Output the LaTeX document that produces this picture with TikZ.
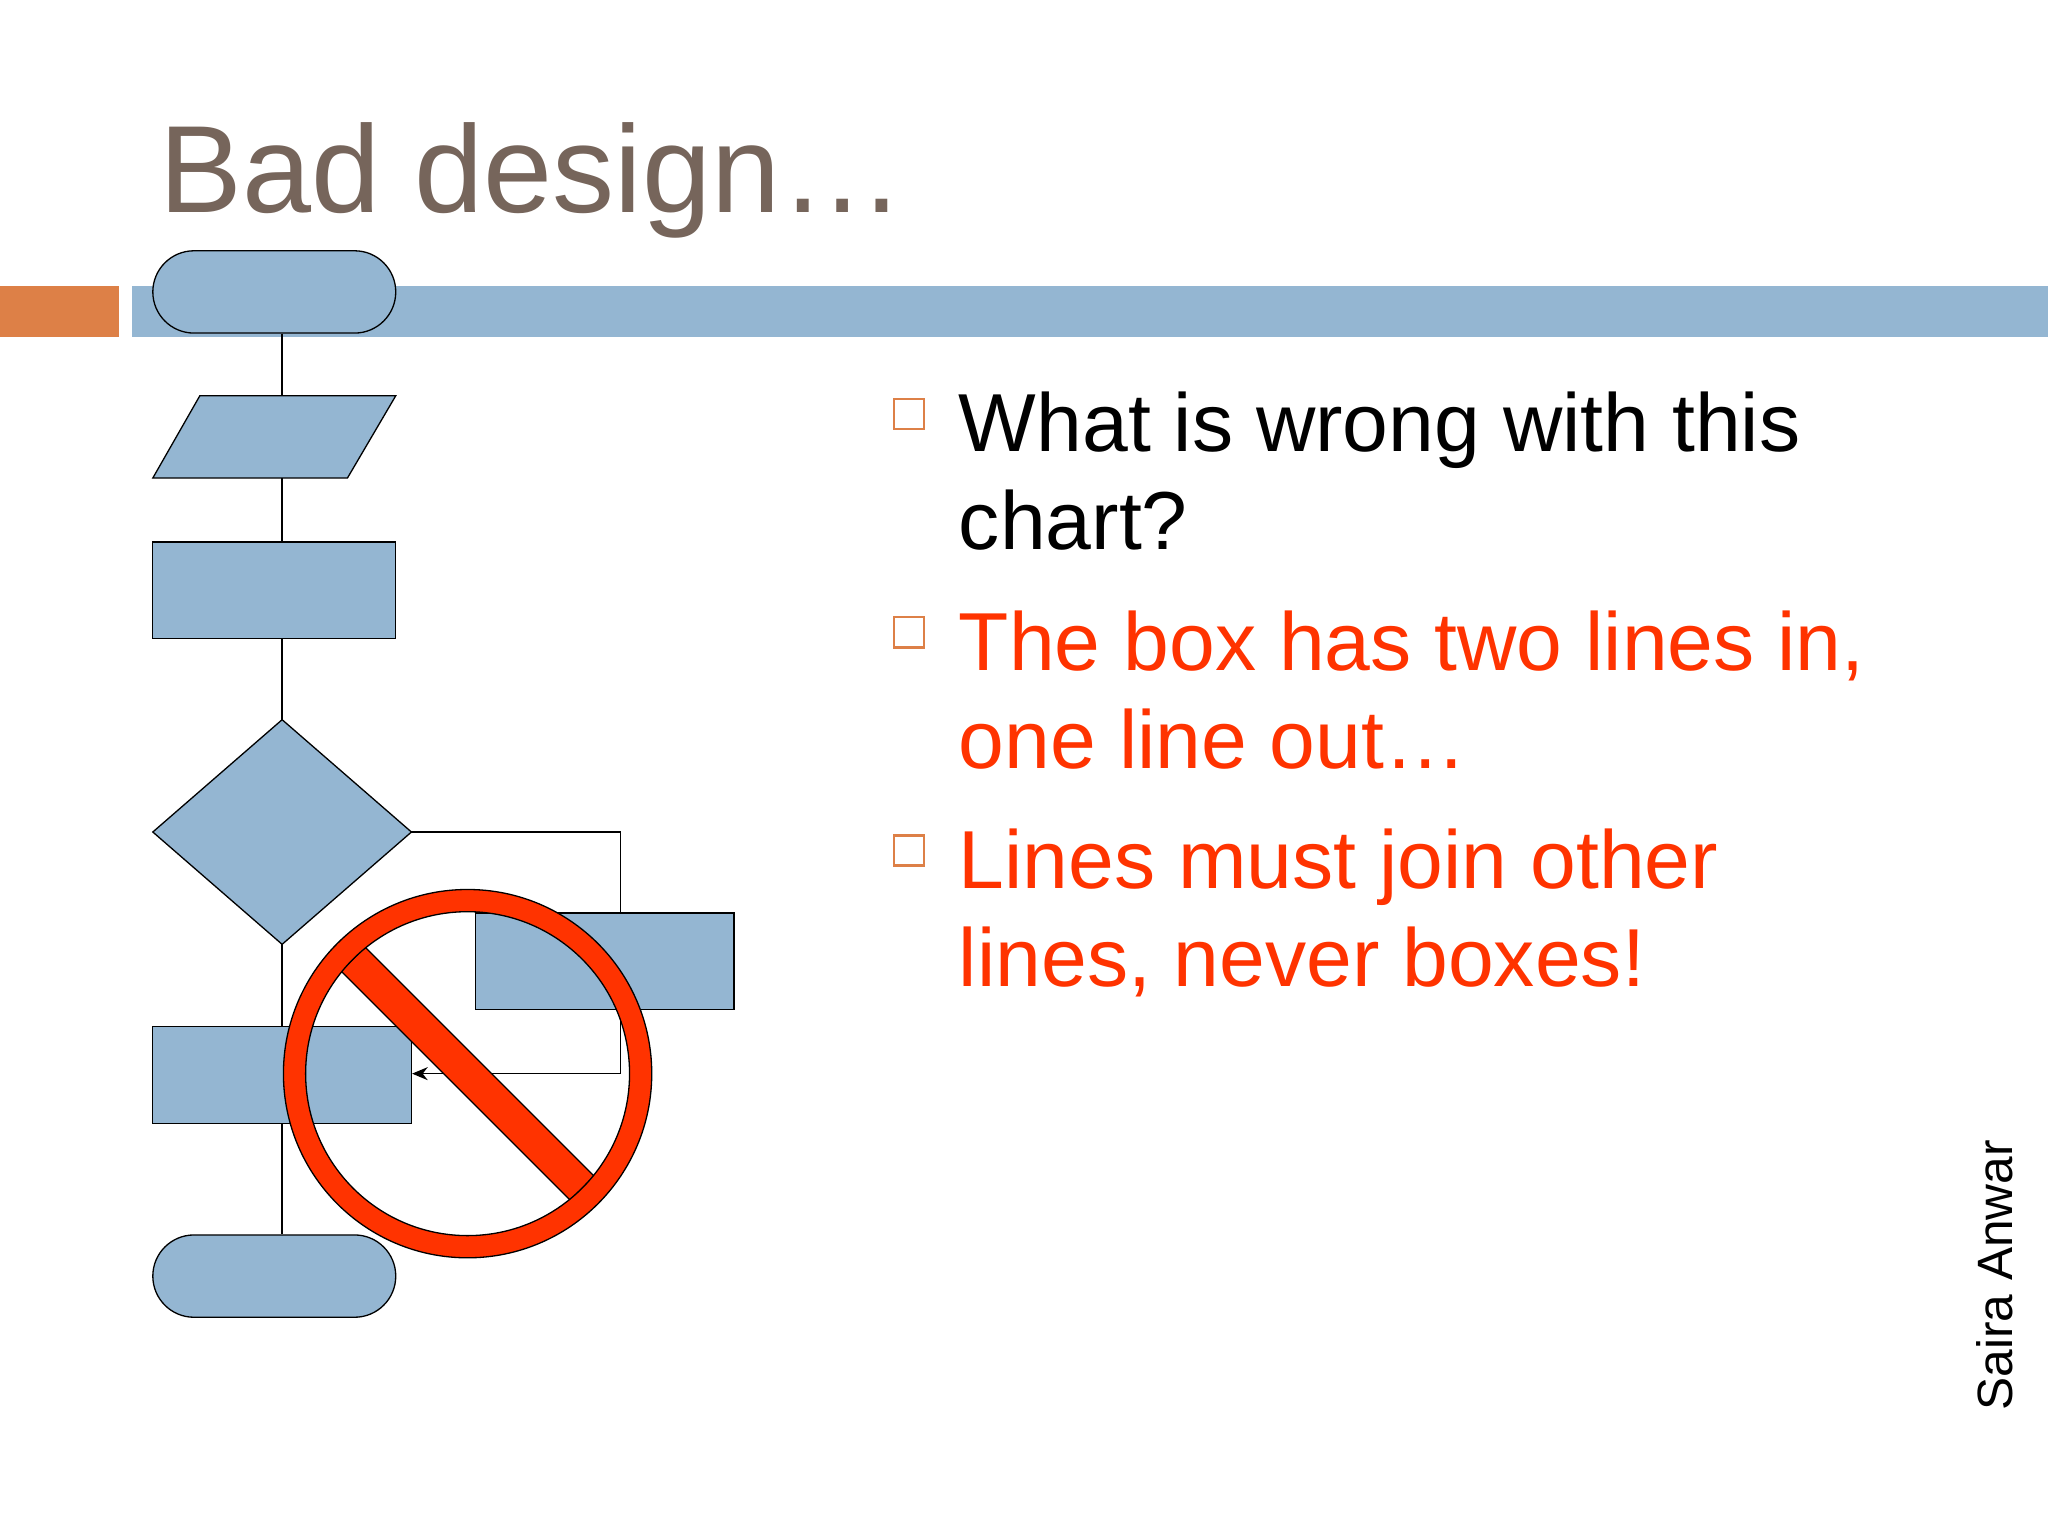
\documentclass[tikz,border=0pt]{standalone}
\usepackage{fontspec}
\setmainfont{Liberation Sans}
\usetikzlibrary{shapes.misc,arrows.meta}
\definecolor{fc}{HTML}{94B6D2}
\definecolor{orb}{HTML}{DD8047}
\definecolor{ttl}{HTML}{76655B}
\definecolor{rd}{HTML}{FF3300}
\begin{document}
\begin{tikzpicture}[x=1pt,y=-1pt,
  box/.style={draw=black,fill=fc,line width=1pt,inner sep=0pt},
  term/.style={box,rounded rectangle,minimum width=186,minimum height=63},
  rectbox/.style={box,rectangle,minimum width=186,minimum height=74},
  conn/.style={line width=1pt},
  bul/.style={draw=orb,line width=2pt,minimum size=23,inner sep=0pt},
  btxt/.style={anchor=base west,font=\fontsize{63}{75}\selectfont,inner sep=0pt}]
\useasboundingbox (0,0) rectangle (1568,1176);
\fill[white] (0,0) rectangle (1568,1176);
\node[anchor=base west,inner sep=0pt,text=ttl,font=\fontsize{95}{100}\selectfont] (title) at (122,163) {Bad design…};
\fill[orb] (0,219) rectangle (91,258);
\fill[fc] (101,219) rectangle (1568,258);
% flowchart
\node[term] (t1) at (210,223.5) {};
\coordinate (pt) at (216,303); \coordinate (pb) at (216,366);
\draw[box] (153,303) -- (303,303) -- (266,366) -- (117,366) -- cycle;
\node[rectbox] (r1) at (210,452) {};
\coordinate (dt) at (216,551); \coordinate (dl) at (117,637);
\coordinate (dr) at (315,637); \coordinate (db) at (216,723);
\draw[box] (dt) -- (dr) -- (db) -- (dl) -- cycle;
\node[rectbox,minimum width=198] (r2) at (463,736) {};
\node[rectbox,minimum width=198] (r3) at (216,823) {};
\node[term] (t2) at (210,977) {};
\draw[conn] (t1.south -| pt) -- (pt);
\draw[conn] (pb) -- (r1.north -| pb);
\draw[conn] (r1.south -| dt) -- (dt);
\draw[conn] (dr) -- (475,637) -- (r2.north -| 475,0);
\draw[conn,-{Stealth[length=12,width=10]}] (r2.south -| 475,0) -- (475,822) -- (r3.east |- 0,822);
\draw[conn] (db) -- (r3.north -| db);
\draw[conn] (r3.south -| db) -- (t2.north -| db);
% no sign
\begin{scope}[shift={(358,822)}]
  \draw[fill=rd,line width=1pt,rotate=-45] (-124,-13) rectangle (124,13);
  \draw[fill=rd,even odd rule,line width=1pt] (0,0) circle (141) (0,0) circle (124);
\end{scope}
% bullets
\node[bul] (b1) at (696,317) {};
\node[bul] (b2) at (696,484) {};
\node[bul] (b3) at (696,651) {};
\node[btxt] (l1) at (734,346) {What is wrong with this};
\node[btxt] (l2) at (734,421) {chart?};
\node[btxt,text=rd] (l3) at (734,513) {The box has two lines in,};
\node[btxt,text=rd] (l4) at (734,588) {one line out…};
\node[btxt,text=rd] (l5) at (734,680) {Lines must join other};
\node[btxt,text=rd] (l6) at (734,755) {lines, never boxes!};
\node[rotate=90,anchor=base west,inner sep=0pt,font=\fontsize{38}{40}\selectfont] (auth) at (1541,1080) {Saira Anwar};
\end{tikzpicture}
\end{document}
